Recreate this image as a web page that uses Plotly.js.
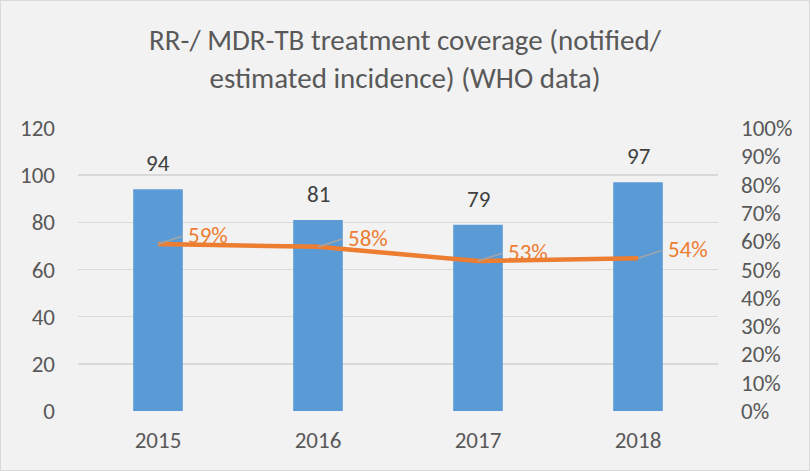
<!DOCTYPE html>
<html><head><meta charset="utf-8">
<script src="https://cdn.plot.ly/plotly-3.0.1.min.js"></script>
<style>
html,body{margin:0;padding:0;background:#f2f2f2;}
#chart{width:808px;height:469px;border:1px solid #d9d9d9;}
</style></head>
<body><div id="chart"></div>
<script>
const years = ['2015','2016','2017','2018'];
const notified = [94, 81, 79, 97];
const coverage = [0.59, 0.58, 0.53, 0.54];
const coverageLabels = ['59%','58%','53%','54%'];
const leftTicks = [0,20,40,60,80,100,120];
const rightTicks = [0,0.1,0.2,0.3,0.4,0.5,0.6,0.7,0.8,0.9,1.0];

const font = 'Carlito, Lato, "Liberation Sans", sans-serif';
const fs = 23;

const bars = {
  type:'bar', x:years, y:notified, marker:{color:'#5b9bd5'}, width:0.31,
  hoverinfo:'skip'
};
const line = {
  type:'scatter', mode:'lines', x:years, y:coverage, yaxis:'y2',
  line:{color:'#ed7d31', width:4.5}, hoverinfo:'skip'
};

const annotations = [];
years.forEach((yr,i)=>{
  annotations.push({x:i, y:notified[i], xref:'x', yref:'y', text:String(notified[i]),
    showarrow:false, yanchor:'bottom', yshift:10, font:{family:font, size:fs, color:'#404040'}});
  annotations.push({x:i, y:coverage[i], xref:'x', yref:'y2', text:coverageLabels[i],
    showarrow:true, arrowhead:0, arrowwidth:1.5, arrowcolor:'#a5a5a5', ax:28, ay:-9,
    startstandoff:4, xanchor:'left', font:{family:font, size:fs, color:'#ed7d31'}});
});

const layout = {
  width:808, height:469,
  paper_bgcolor:'#f2f2f2', plot_bgcolor:'#f2f2f2',
  margin:{l:77, r:91, t:127, b:59},
  showlegend:false,
  font:{family:font, color:'#595959', size:fs},
  title:{text:'RR-/ MDR-TB treatment coverage (notified/<br>estimated incidence) (WHO data)',
    x:0.5, xanchor:'center', y:0.895, yanchor:'middle', font:{family:font, size:29, color:'#595959'}},
  xaxis:{type:'category', range:[-0.5,3.5], showgrid:false, zeroline:false, showline:false, ticks:'',
    tickfont:{size:fs, color:'#595959'}, ticklabelstandoff:13},
  yaxis:{range:[0,120], tickvals:leftTicks, showgrid:true, gridcolor:'#d9d9d9', gridwidth:1.5,
    zeroline:false, showline:false, ticks:'', ticklabelstandoff:22,
    tickfont:{size:fs, color:'#595959'}},
  yaxis2:{range:[0,1], tickvals:rightTicks, tickformat:'.0%', overlaying:'y', side:'right',
    showgrid:false, zeroline:false, showline:false, ticks:'', ticklabelstandoff:22,
    tickfont:{size:fs, color:'#595959'}},
  annotations:annotations
};

Plotly.newPlot('chart',[bars,line],layout,{displayModeBar:false, staticPlot:true});
</script></body></html>
